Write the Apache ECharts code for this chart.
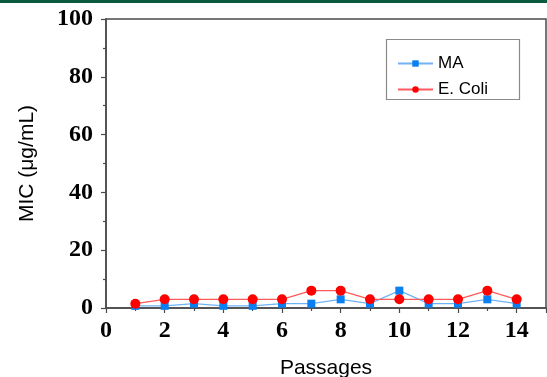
<!DOCTYPE html>
<html>
<head>
<meta charset="utf-8">
<script src="https://cdn.jsdelivr.net/npm/echarts@6/dist/echarts.min.js"></script>
<style>
html,body{margin:0;padding:0;background:#fff;}
#c{width:547px;height:377px;}
</style>
</head>
<body>
<div id="c"></div>
<script>
var passages = [1,2,3,4,5,6,7,8,9,10,11,12,13,14];
var maValues = [0.75,0.75,1.5,0.75,0.75,1.5,1.5,3,1.5,6,1.5,1.5,3,1.5];
var ecoliValues = [1.5,3,3,3,3,3,6,6,3,3,3,3,6,3];
var seriesNames = ['MA','E. Coli'];
var xTitle = 'Passages';
var yTitle = 'MIC (μg/mL)';

function pairs(xs, ys){ return xs.map(function(x,i){return [x, ys[i]];}); }

var chart = echarts.init(document.getElementById('c'), null, {renderer:'canvas'});
var axisColor = '#4a4a4a';
var labelFont = {fontFamily:'Liberation Serif', fontWeight:'bold', fontSize:24, color:'#000'};
chart.setOption({
  animation:false,
  backgroundColor:'#fff',
  graphic:[
    {type:'rect', shape:{x:0,y:0,width:547,height:3}, style:{fill:'#0b5a3d'}},
    {type:'rect', shape:{x:386.5,y:39.5,width:133,height:60}, style:{fill:'#fff', stroke:'#8a8a8a', lineWidth:1.2}, z:10}
  ],
  grid:{left:106, right:1, top:19, bottom:69, outerBoundsMode:'none', containLabel:false, show:true, borderColor:axisColor, borderWidth:1.5, backgroundColor:'transparent'},
  legend:{
    data:seriesNames, orient:'vertical', left:397, top:55, padding:0,
    itemWidth:35, itemHeight:8, itemGap:9, z:20,
    textStyle:{fontFamily:'Liberation Sans', fontSize:17, color:'#000', padding:[0,0,0,0]}
  },
  xAxis:{
    type:'value', min:0, max:15, interval:2,
    name:xTitle, nameLocation:'middle', nameGap:50,
    nameTextStyle:{fontFamily:'Liberation Sans', fontSize:21, color:'#000'},
    axisLine:{show:true, onZero:false, lineStyle:{color:axisColor, width:1.5}},
    axisTick:{show:true, inside:false, length:5, lineStyle:{color:axisColor, width:1.2}},
    minorTick:{show:true, splitNumber:2, length:3, lineStyle:{color:axisColor, width:1.2}},
    splitLine:{show:false}, minorSplitLine:{show:false},
    axisLabel:Object.assign({margin:11, showMaxLabel:false, formatter:function(v){return v>14?'':String(v);}}, labelFont)
  },
  yAxis:{
    type:'value', min:0, max:100, interval:20,
    name:yTitle, nameLocation:'middle', nameGap:68,
    nameTextStyle:{fontFamily:'Liberation Sans', fontSize:21, color:'#000'},
    axisLine:{show:true, lineStyle:{color:axisColor, width:1.5}},
    axisTick:{show:true, inside:false, length:5, lineStyle:{color:axisColor, width:1.2}},
    minorTick:{show:true, splitNumber:2, length:3, lineStyle:{color:axisColor, width:1.2}},
    splitLine:{show:false}, minorSplitLine:{show:false},
    axisLabel:Object.assign({margin:13}, labelFont)
  },
  series:[
    {name:seriesNames[0], type:'line', data:pairs(passages, maValues),
     symbol:'rect', symbolSize:8, color:'#0a7ff2',
     lineStyle:{color:'#6fb3f5', width:1.2}, itemStyle:{color:'#0a7ff2'}, z:3},
    {name:seriesNames[1], type:'line', data:pairs(passages, ecoliValues),
     symbol:'circle', symbolSize:10, color:'#ff0000',
     lineStyle:{color:'#ff5a5a', width:1.2}, itemStyle:{color:'#ff0000'}, z:4}
  ]
});
</script>
</body>
</html>
